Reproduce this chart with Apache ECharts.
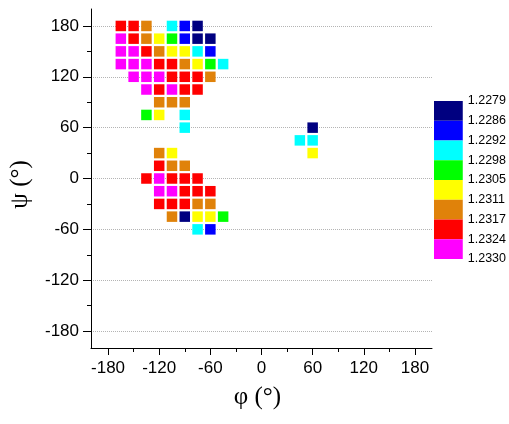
<!DOCTYPE html>
<html>
<head>
<meta charset="utf-8">
<script src="https://cdn.jsdelivr.net/npm/echarts@6/dist/echarts.min.js"></script>
<style>
html,body{margin:0;padding:0;background:#fff;}
#chart{width:509px;height:424px;}
</style>
</head>
<body>
<div id="chart"></div>
<script>
// Colour bin edges (legend labels) and colours, top to bottom
var legendEdges = [1.2279, 1.2286, 1.2292, 1.2298, 1.2305, 1.2311, 1.2317, 1.2324, 1.2330];
var legendColors = ['#000080', '#0000ff', '#00ffff', '#00ff00', '#ffff00', '#e0820a', '#ff0000', '#ff00ff'];

// Axis tick values
var majorTicks = [-180, -120, -60, 0, 60, 120, 180];
var minorTicks = [-150, -90, -30, 30, 90, 150];

// Cells: [phi, psi, value]
var upperRegion = [
  [-165, 180, 1.2320], [-150, 180, 1.2320], [-135, 180, 1.2314], [-105, 180, 1.2295], [-90, 180, 1.2289], [-75, 180, 1.2282],
  [-165, 165, 1.2327], [-150, 165, 1.2320], [-135, 165, 1.2314], [-120, 165, 1.2308], [-105, 165, 1.2301], [-90, 165, 1.2289], [-75, 165, 1.2282], [-60, 165, 1.2282],
  [-165, 150, 1.2327], [-150, 150, 1.2327], [-135, 150, 1.2320], [-120, 150, 1.2314], [-105, 150, 1.2308], [-90, 150, 1.2308], [-75, 150, 1.2295], [-60, 150, 1.2289],
  [-165, 135, 1.2327], [-150, 135, 1.2327], [-135, 135, 1.2327], [-120, 135, 1.2320], [-105, 135, 1.2320], [-90, 135, 1.2314], [-75, 135, 1.2308], [-60, 135, 1.2301], [-45, 135, 1.2295],
  [-150, 120, 1.2327], [-135, 120, 1.2327], [-120, 120, 1.2327], [-105, 120, 1.2320], [-90, 120, 1.2320], [-75, 120, 1.2320], [-60, 120, 1.2314],
  [-135, 105, 1.2327], [-120, 105, 1.2320], [-105, 105, 1.2327], [-90, 105, 1.2320], [-75, 105, 1.2320],
  [-120, 90, 1.2314], [-105, 90, 1.2314], [-90, 90, 1.2314],
  [-135, 75, 1.2301], [-120, 75, 1.2308], [-90, 75, 1.2295],
  [-90, 60, 1.2295]
];
var lowerRegion = [
  [-120, 30, 1.2314], [-105, 30, 1.2308],
  [-120, 15, 1.2320], [-105, 15, 1.2314], [-90, 15, 1.2314],
  [-135, 0, 1.2320], [-120, 0, 1.2327], [-105, 0, 1.2320], [-90, 0, 1.2320], [-75, 0, 1.2320],
  [-120, -15, 1.2327], [-105, -15, 1.2327], [-90, -15, 1.2320], [-75, -15, 1.2320], [-60, -15, 1.2320],
  [-120, -30, 1.2320], [-105, -30, 1.2320], [-90, -30, 1.2320], [-75, -30, 1.2314], [-60, -30, 1.2314],
  [-105, -45, 1.2314], [-90, -45, 1.2282], [-75, -45, 1.2308], [-60, -45, 1.2308], [-45, -45, 1.2301],
  [-75, -60, 1.2295], [-60, -60, 1.2289]
];
var rightRegion = [
  [60, 60, 1.2282], [45, 45, 1.2295], [60, 45, 1.2295], [60, 30, 1.2308]
];

var cells = upperRegion.concat(lowerRegion, rightRegion);

var pieces = legendColors.map(function (c, i) {
  return { gte: legendEdges[i], lt: legendEdges[i + 1], color: c };
});
var legendCells = legendColors.map(function (c, i) { return [0, i]; });

var sans = 'Liberation Sans';
var serif = 'Liberation Serif';

var chart = echarts.init(document.getElementById('chart'), null, { renderer: 'canvas' });
chart.setOption({
  animation: false,
  backgroundColor: '#ffffff',
  grid: [
    { left: 91, top: 9, width: 341, height: 339, containLabel: false },
    { left: 434, top: 101, width: 31, height: 158, containLabel: false }
  ],
  xAxis: [
    {
      type: 'value', gridIndex: 0, position: 'bottom', min: -200, max: 200,
      axisLine: { show: true, onZero: false, lineStyle: { color: '#000', width: 1 } },
      axisTick: { show: true, customValues: majorTicks, length: 7, lineStyle: { color: '#000' } },
      axisLabel: { customValues: majorTicks, fontSize: 17, fontFamily: sans, color: '#000', margin: 12 },
      splitLine: { show: false },
      name: 'φ (°)', nameLocation: 'middle', nameGap: 37,
      nameTextStyle: { fontSize: 25, fontFamily: serif, color: '#000', padding: [0, 8, 0, 0] }
    },
    {
      type: 'value', gridIndex: 0, position: 'bottom', offset: 0, min: -200, max: 200,
      axisLine: { show: false, onZero: false },
      axisTick: { show: true, customValues: minorTicks, length: 4, lineStyle: { color: '#000' } },
      axisLabel: { show: false },
      splitLine: { show: false }
    },
    {
      type: 'value', gridIndex: 1, min: 0, max: 1, show: false
    }
  ],
  yAxis: [
    {
      type: 'value', gridIndex: 0, position: 'left', min: -200, max: 200,
      axisLine: { show: true, onZero: false, lineStyle: { color: '#000', width: 1 } },
      axisTick: { show: true, customValues: majorTicks, length: 8, lineStyle: { color: '#000' } },
      axisLabel: { customValues: majorTicks, fontSize: 17, fontFamily: sans, color: '#000', margin: 12 },
      splitLine: { show: true, lineStyle: { color: '#b4b4b4', type: 'dotted', width: 1 } },
      name: 'ψ (°)', nameLocation: 'middle', nameRotate: 90, nameGap: 58,
      nameTextStyle: { fontSize: 25, fontFamily: serif, color: '#000', padding: [0, 12, 0, 0] }
    },
    {
      type: 'value', gridIndex: 0, position: 'left', offset: 0, min: -200, max: 200,
      axisLine: { show: false, onZero: false },
      axisTick: { show: true, customValues: minorTicks, length: 4, lineStyle: { color: '#000' } },
      axisLabel: { show: false },
      splitLine: { show: false }
    },
    {
      type: 'value', gridIndex: 1, position: 'right', min: 0, max: 8, interval: 1, inverse: true,
      axisLine: { show: false }, axisTick: { show: false }, splitLine: { show: false },
      axisLabel: {
        fontSize: 12.5, fontFamily: sans, color: '#000', margin: 5,
        formatter: function (v) { return legendEdges[v] !== undefined ? legendEdges[v].toFixed(4) : ''; }
      }
    }
  ],
  visualMap: {
    type: 'piecewise', show: false, seriesIndex: 0, dimension: 2, pieces: pieces
  },
  series: [
    {
      type: 'scatter', xAxisIndex: 0, yAxisIndex: 0,
      symbol: 'rect', symbolSize: 10.5,
      itemStyle: { opacity: 1 },
      data: cells
    },
    {
      type: 'custom', xAxisIndex: 2, yAxisIndex: 2,
      data: legendCells,
      renderItem: function (params, api) {
        var i = api.value(1);
        var p0 = api.coord([0, i]);
        var p1 = api.coord([1, i + 1]);
        return {
          type: 'rect',
          shape: { x: p0[0], y: p0[1], width: p1[0] - p0[0], height: p1[1] - p0[1] },
          style: { fill: legendColors[i] }
        };
      }
    }
  ]
});
</script>
</body>
</html>
